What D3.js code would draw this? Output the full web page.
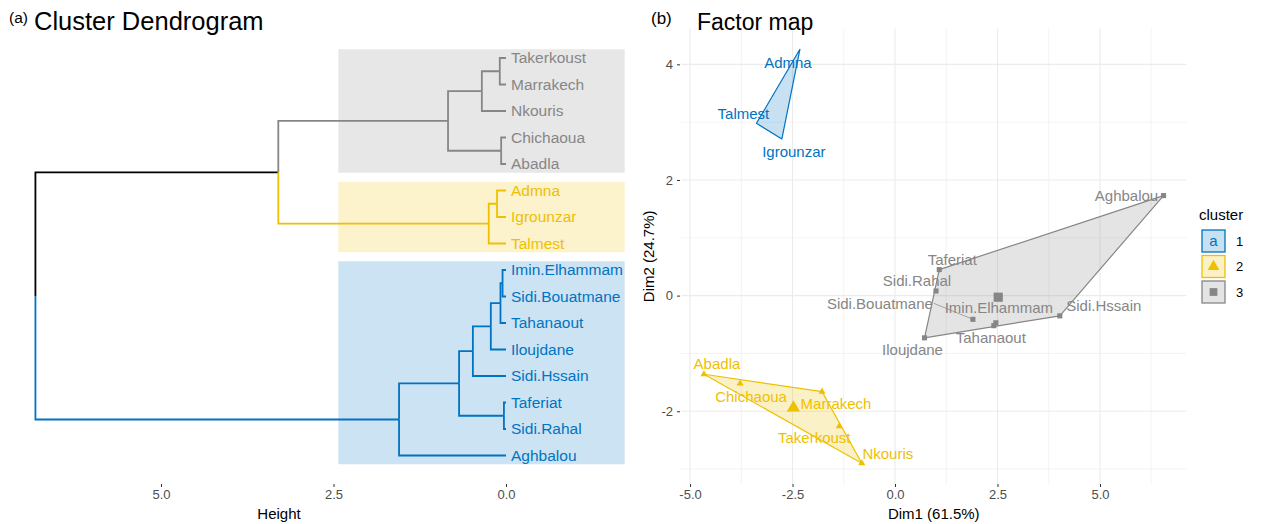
<!DOCTYPE html>
<html>
<head>
<meta charset="utf-8">
<script src="https://cdn.jsdelivr.net/npm/d3@7"></script>
<style>
html,body{margin:0;padding:0;background:#fff;}
svg{display:block;font-family:"Liberation Sans",Arial,Helvetica,sans-serif;}
</style>
</head>
<body>
<svg id="chart" width="1262" height="524"></svg>
<script>
// (a) dendrogram: leaf order top to bottom, group of each leaf, hclust-style merges
const leaves = ["Takerkoust","Marrakech","Nkouris","Chichaoua","Abadla","Admna","Igrounzar","Talmest",
  "Imin.Elhammam","Sidi.Bouatmane","Tahanaout","Iloujdane","Sidi.Hssain","Taferiat","Sidi.Rahal","Aghbalou"];
const leafGroup = [3,3,3,3,3,2,2,2,1,1,1,1,1,1,1,1];
// negative = leaf number, positive = earlier merge number (1-based)
const merges = [[-1,-2],[1,-3],[-4,-5],[2,3],[-6,-7],[5,-8],[4,6],
  [-9,-10],[8,-11],[9,-12],[10,-13],[-14,-15],[11,12],[13,-16],[7,14]];
const mergeHeights = [0.09,0.35,0.07,0.84,0.13,0.25,3.30,0.05,0.08,0.22,0.48,0.03,0.68,1.55,6.82];
const heightTicks = [5,2.5,0];

// (b) factor map
const indNames = ["Admna","Talmest","Igrounzar","Abadla","Chichaoua","Marrakech","Takerkoust","Nkouris",
  "Aghbalou","Taferiat","Sidi.Rahal","Sidi.Bouatmane","Imin.Elhammam","Tahanaout","Iloujdane","Sidi.Hssain"];
const dim1 = [-2.32,-3.38,-2.76,-4.66,-3.78,-1.78,-1.36,-0.81, 6.55,1.08,1.00,1.90,2.46,2.41,0.72,4.02];
const dim2 = [4.26,2.98,2.71,-1.36,-1.52,-1.66,-2.26,-2.90, 1.73,0.45,0.08,-0.41,-0.47,-0.52,-0.73,-0.35];
const indCluster = [1,1,1,2,2,2,2,2,3,3,3,3,3,3,3,3];
const dim1Ticks = [-5,-2.5,0,2.5,5];
const dim2Ticks = [-2,0,2,4];

const clusterIds = [1,2,3];
const palette = {1:"#0073C2",2:"#EFC000",3:"#868686"};

// label offsets (px) as placed by the repel layout
const labelNudge = {
  "Admna":[-12,13],"Talmest":[-13,-10],"Igrounzar":[12,13],
  "Abadla":[13,-11],"Chichaoua":[11,13],"Marrakech":[14,12],"Takerkoust":[-25,11],"Nkouris":[26,-10],
  "Aghbalou":[-37,0],"Taferiat":[13,-10],"Sidi.Rahal":[-19,-10],"Sidi.Bouatmane":[-93,-16],
  "Imin.Elhammam":[3,-15],"Tahanaout":[-3,12],"Iloujdane":[-12,12],"Sidi.Hssain":[44,-10]
};

const svg = d3.select('#chart');
const fmt1 = d => d.toFixed(1);

// ---------- (a) Cluster Dendrogram ----------
(function(){
  const g = svg.append('g');
  const hx = d3.scaleLinear().domain([0,5]).range([506,161]);
  const ly = d3.scaleLinear().domain([0,leaves.length-1]).range([58,455.5]);

  const built = [];
  const ref = r => r < 0 ? {name: leaves[-r-1], leaf: -r-1, h: 0} : built[r-1];
  merges.forEach((m,i) => { built[i] = {h: mergeHeights[i], children: [ref(m[0]), ref(m[1])]}; });
  const root = d3.hierarchy(built[built.length-1]);
  root.eachAfter(n => {
    if (!n.children) { n.pos = n.data.leaf; n.group = leafGroup[n.data.leaf]; }
    else {
      n.pos = d3.mean(n.children, c => c.pos);
      const g0 = n.children[0].group;
      n.group = n.children.every(c => c.group === g0) ? g0 : null;
    }
  });

  // cluster rectangles
  clusterIds.forEach(k => {
    const idx = d3.range(leaves.length).filter(i => leafGroup[i] === k);
    const [a,b] = d3.extent(idx);
    g.append('rect')
      .attr('x', hx(2.43)).attr('width', hx(-1.72) - hx(2.43))
      .attr('y', ly(a - 0.33)).attr('height', ly(b + 0.33) - ly(a - 0.33))
      .attr('fill', palette[k]).attr('fill-opacity', 0.2);
  });

  g.selectAll('path.edge').data(root.descendants().filter(n => n.parent)).enter().append('path')
    .attr('class','edge')
    .attr('d', n => `M${hx(n.parent.data.h)},${ly(n.parent.pos)}V${ly(n.pos)}H${hx(n.data.h)}`)
    .attr('fill','none')
    .attr('stroke', n => n.group ? palette[n.group] : '#000')
    .attr('stroke-width', 1.8);

  g.selectAll('text.leaf').data(leaves).enter().append('text')
    .attr('class','leaf')
    .attr('x', hx(0) + 5).attr('y', (d,i) => ly(i)).attr('dy','0.35em')
    .attr('font-size', 15.5).attr('fill', (d,i) => palette[leafGroup[i]])
    .text(d => d);

  const ax = g.append('g').attr('transform','translate(0,484)')
    .call(d3.axisBottom(hx).tickValues(heightTicks).tickFormat(fmt1).tickSize(3).tickPadding(3));
  ax.select('.domain').remove();
  ax.selectAll('line').attr('stroke','#333');
  ax.selectAll('text').attr('fill','#4d4d4d').attr('font-size',13).attr('font-family','inherit');

  g.append('text').attr('x',279).attr('y',519).attr('text-anchor','middle').attr('font-size',15).text('Height');
  g.append('text').attr('x',9).attr('y',23).attr('font-size',15.5).text('(a)');
  g.append('text').attr('x',34).attr('y',30).attr('font-size',25.5).text('Cluster Dendrogram');
})();

// ---------- (b) Factor map ----------
(function(){
  const g = svg.append('g');
  const e1 = d3.extent(dim1), e2 = d3.extent(dim2);
  const p1 = (e1[1]-e1[0])*0.05, p2 = (e2[1]-e2[0])*0.05;
  const fx = d3.scaleLinear().domain([e1[0]-p1, e1[1]+p1]).range([681,1186.5]);
  const fy = d3.scaleLinear().domain([e2[0]-p2, e2[1]+p2]).range([484,28.6]);
  const [x0,x1] = fx.range(), [y0,y1] = fy.range();

  const inX = v => v >= fx.domain()[0] && v <= fx.domain()[1];
  const inY = v => v >= fy.domain()[0] && v <= fy.domain()[1];
  const minorX = [dim1Ticks[0]-1.25].concat(dim1Ticks.map(v => v + 1.25)).filter(inX);
  const minorY = [dim2Ticks[0]-1].concat(dim2Ticks.map(v => v + 1)).filter(inY);

  const grid = g.append('g').attr('stroke','#ebebeb');
  minorX.forEach(v => grid.append('line').attr('x1',fx(v)).attr('x2',fx(v)).attr('y1',y0).attr('y2',y1).attr('stroke-width',0.6));
  minorY.forEach(v => grid.append('line').attr('y1',fy(v)).attr('y2',fy(v)).attr('x1',x0).attr('x2',x1).attr('stroke-width',0.6));
  dim1Ticks.forEach(v => grid.append('line').attr('x1',fx(v)).attr('x2',fx(v)).attr('y1',y0).attr('y2',y1).attr('stroke-width',1.1));
  dim2Ticks.forEach(v => grid.append('line').attr('y1',fy(v)).attr('y2',fy(v)).attr('x1',x0).attr('x2',x1).attr('stroke-width',1.1));

  const pts = indNames.map((n,i) => ({name:n, c:indCluster[i], px:fx(dim1[i]), py:fy(dim2[i]), x:dim1[i], y:dim2[i]}));

  clusterIds.forEach(k => {
    const cp = pts.filter(p => p.c === k);
    const hull = d3.polygonHull(cp.map(p => [p.px, p.py]));
    g.append('path').attr('d', 'M' + hull.join('L') + 'Z')
      .attr('fill', palette[k]).attr('fill-opacity', 0.22)
      .attr('stroke', palette[k]).attr('stroke-width', 1.2).attr('stroke-linejoin','round');
  });

  const shapeOf = {2: d3.symbolTriangle, 3: d3.symbolSquare};
  pts.filter(p => shapeOf[p.c]).forEach(p => {
    g.append('path').attr('d', d3.symbol(shapeOf[p.c], p.c === 2 ? 22 : 26)())
      .attr('transform', `translate(${p.px},${p.py})`).attr('fill', palette[p.c]);
  });
  // cluster centres
  clusterIds.filter(k => shapeOf[k]).forEach(k => {
    const cp = pts.filter(p => p.c === k);
    g.append('path').attr('d', d3.symbol(shapeOf[k], k === 2 ? 75 : 85)())
      .attr('transform', `translate(${fx(d3.mean(cp, p => p.x))},${fy(d3.mean(cp, p => p.y))})`)
      .attr('fill', palette[k]);
  });

  pts.forEach(p => {
    const [dx,dy] = labelNudge[p.name];
    const t = g.append('text').attr('x', p.px + dx).attr('y', p.py + dy).attr('dy','0.35em')
      .attr('text-anchor','middle').attr('font-size',15).attr('fill', palette[p.c]).text(p.name);
    const w = t.node().getComputedTextLength();
    if (Math.hypot(dx,dy) > w/2 + 12) {
      g.insert('line', 'text').attr('x1', p.px + dx + w/2 + 1).attr('y1', p.py + dy)
        .attr('x2', p.px).attr('y2', p.py).attr('stroke', palette[p.c]).attr('stroke-width', 0.7);
    }
  });

  const ax = g.append('g').attr('transform',`translate(0,${y0})`)
    .call(d3.axisBottom(fx).tickValues(dim1Ticks).tickFormat(fmt1).tickSize(3).tickPadding(3));
  const ay = g.append('g').attr('transform',`translate(${x0-1},0)`)
    .call(d3.axisLeft(fy).tickValues(dim2Ticks).tickFormat(d => String(d)).tickSize(3).tickPadding(4));
  [ax,ay].forEach(a => {
    a.select('.domain').remove();
    a.selectAll('line').attr('stroke','#333');
    a.selectAll('text').attr('fill','#4d4d4d').attr('font-size',13).attr('font-family','inherit');
  });

  g.append('text').attr('x',(x0+x1)/2).attr('y',519).attr('text-anchor','middle').attr('font-size',15).text('Dim1 (61.5%)');
  g.append('text').attr('transform',`translate(654,${(y0+y1)/2}) rotate(-90)`).attr('text-anchor','middle')
    .attr('font-size',15).text('Dim2 (24.7%)');
  g.append('text').attr('x',651).attr('y',24).attr('font-size',17).text('(b)');
  g.append('text').attr('x',697).attr('y',30).attr('font-size',23).text('Factor map');

  // legend
  const lg = g.append('g');
  lg.append('text').attr('x',1199).attr('y',220).attr('font-size',15).text('cluster');
  clusterIds.forEach((k,i) => {
    const y = 230 + i*25.5;
    lg.append('rect').attr('x',1202).attr('y',y).attr('width',23).attr('height',22)
      .attr('fill', palette[k]).attr('fill-opacity',0.22).attr('stroke',palette[k]).attr('stroke-width',1.3);
    if (shapeOf[k]) {
      lg.append('path').attr('d', d3.symbol(shapeOf[k], 60)()).attr('transform',`translate(1213.5,${y+11})`).attr('fill',palette[k]);
    } else {
      lg.append('text').attr('x',1213.5).attr('y',y+11).attr('dy','0.35em').attr('text-anchor','middle')
        .attr('font-size',15).attr('fill',palette[k]).text('a');
    }
    lg.append('text').attr('x',1236).attr('y',y+11).attr('dy','0.35em').attr('font-size',13).text(String(k));
  });
})();
</script>
</body>
</html>
